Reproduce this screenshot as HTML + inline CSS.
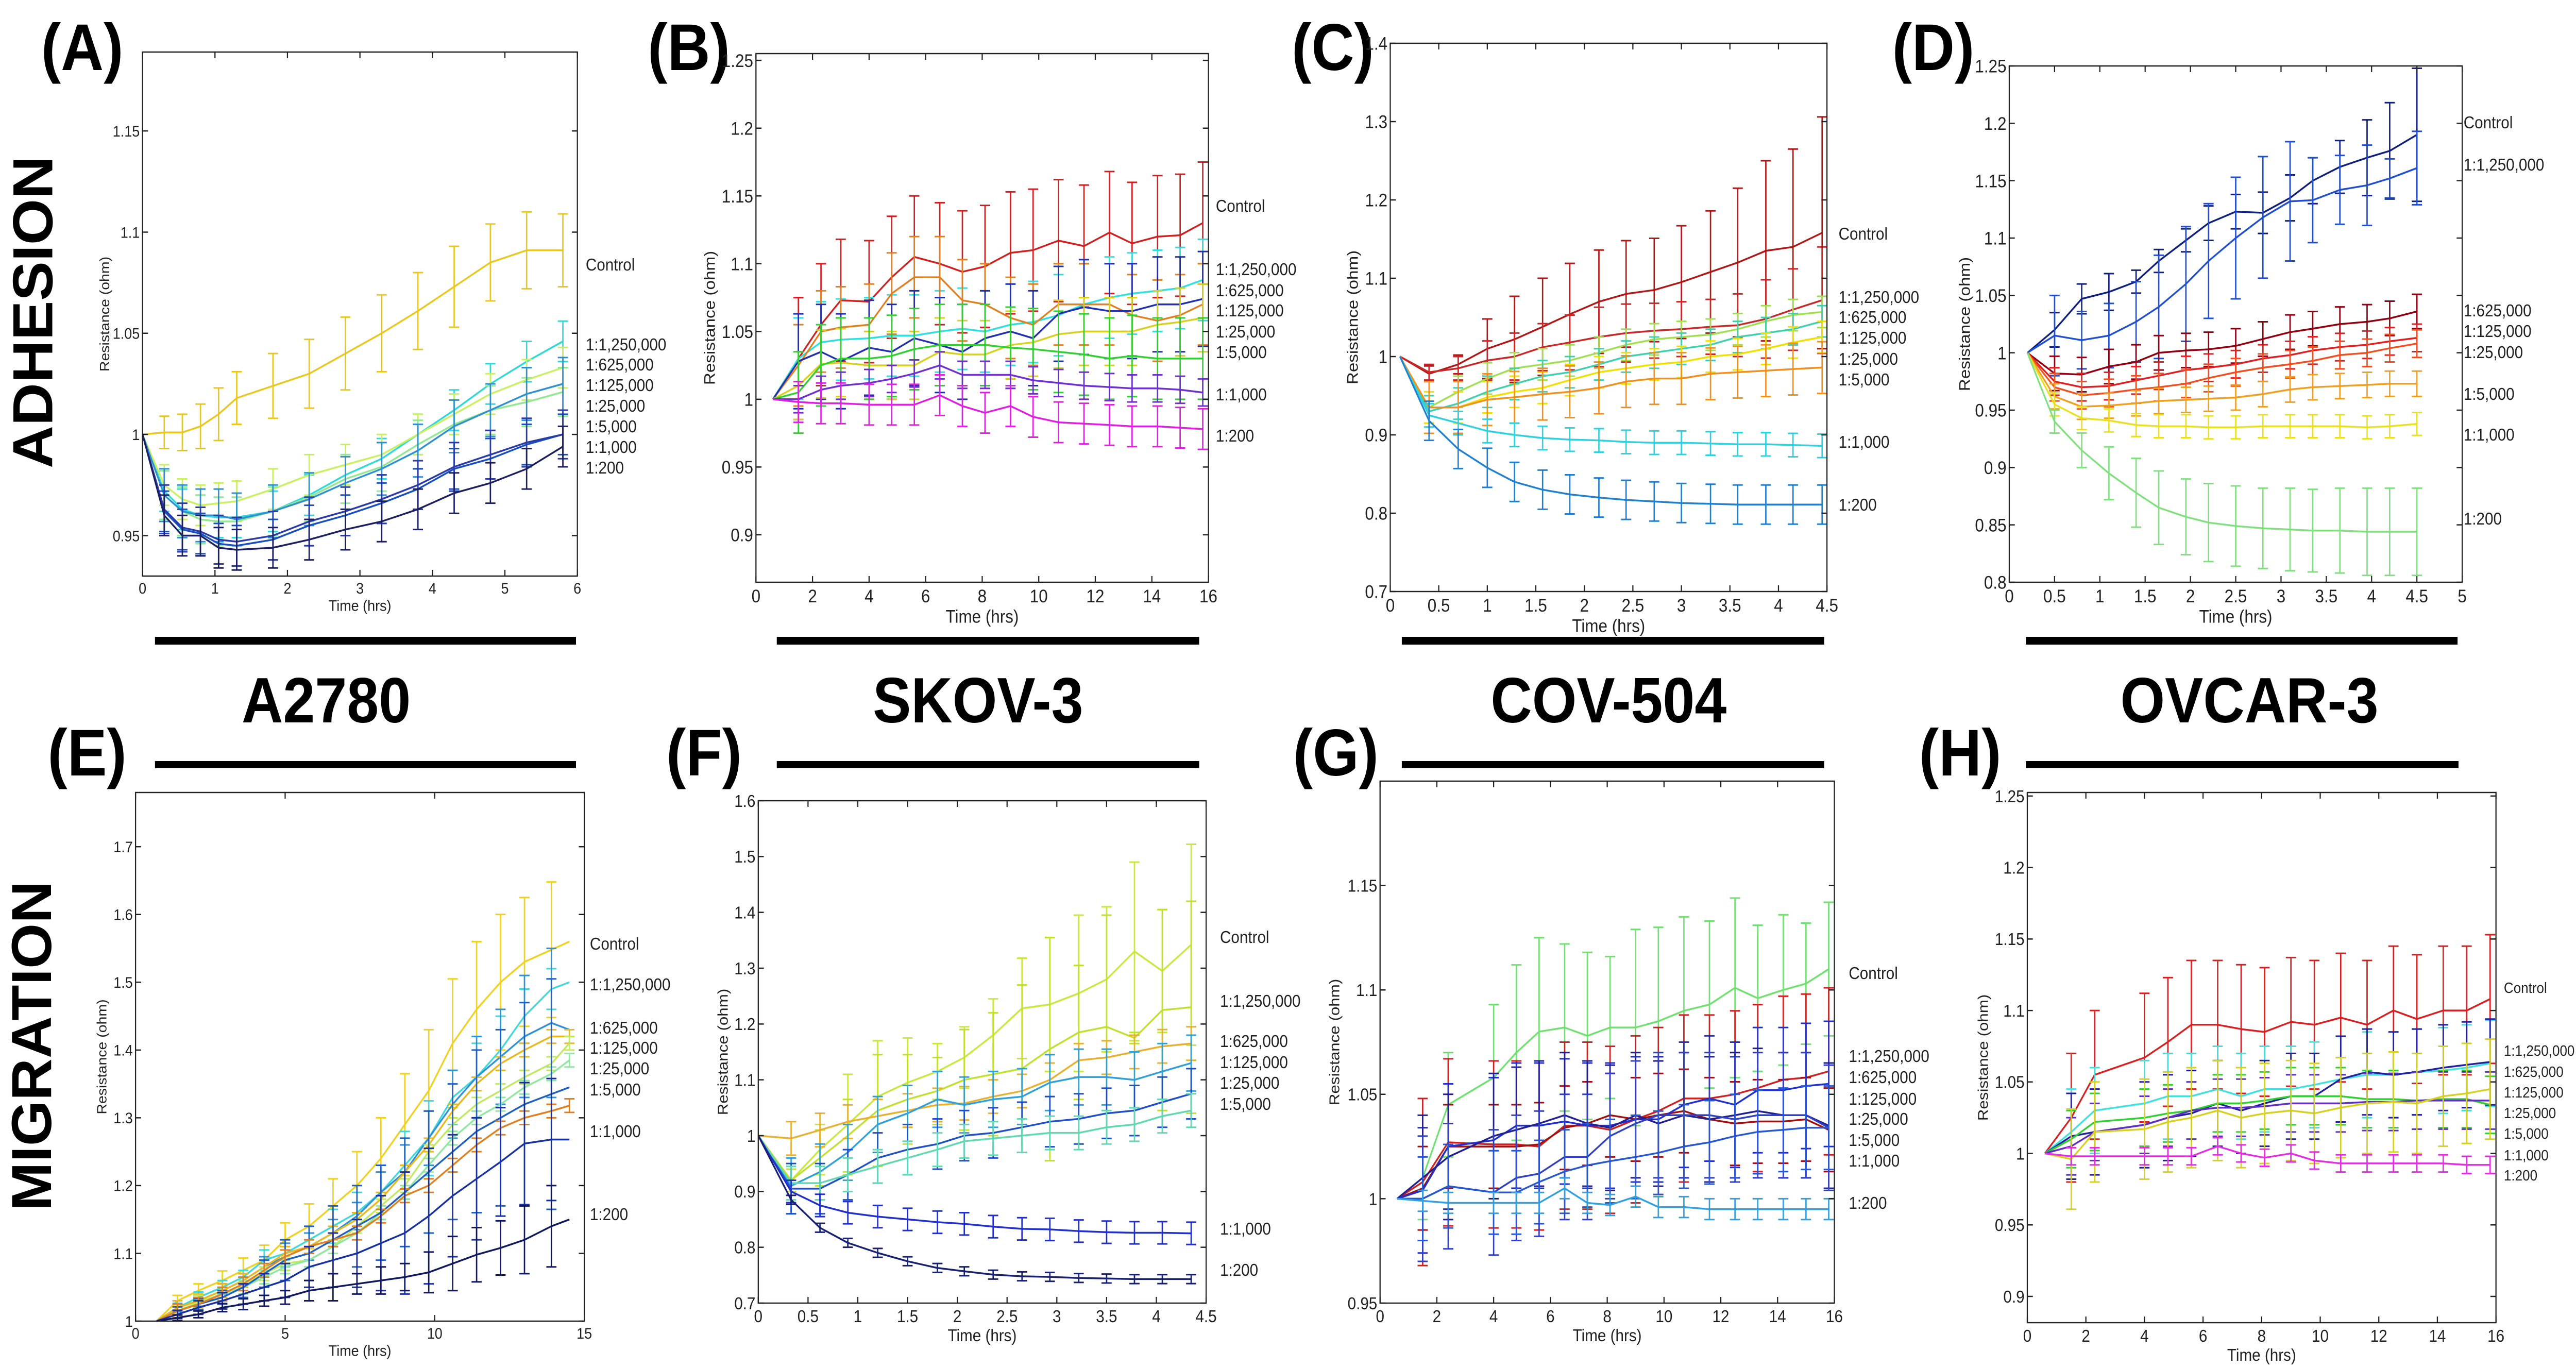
<!DOCTYPE html>
<html><head><meta charset="utf-8">
<style>
html,body{margin:0;padding:0;background:#fff;overflow:hidden;width:100%;height:100%;}
svg{display:block;width:100vw;height:100vh;}
text{font-family:"Liberation Sans",Arial,sans-serif;}
</style></head>
<body>
<svg id="fig" xmlns="http://www.w3.org/2000/svg" viewBox="0 0 5568 2653" preserveAspectRatio="none">
<rect x="0" y="0" width="5568" height="2653" fill="#fff"/>
<g>
<text transform="translate(113,606) rotate(-90)" text-anchor="middle" font-size="122" font-weight="bold" textLength="606" lengthAdjust="spacingAndGlyphs">ADHESION</text>
<text transform="translate(110,2030) rotate(-90)" text-anchor="middle" font-size="122" font-weight="bold" textLength="640" lengthAdjust="spacingAndGlyphs">MIGRATION</text>
</g>
<g font-size="128" font-weight="bold">
<text x="89" y="136">(A)</text>
<text x="1400" y="136">(B)</text>
<text x="2792" y="136">(C)</text>
<text x="4090" y="136">(D)</text>
<text x="103" y="1505">(E)</text>
<text x="1440" y="1505">(F)</text>
<text x="2795" y="1505">(G)</text>
<text x="4148" y="1505">(H)</text>
</g>
<g font-size="124" font-weight="bold" text-anchor="middle">
<text x="705" y="1402">A2780</text>
<text x="2114" y="1402">SKOV-3</text>
<text x="3477" y="1402">COV-504</text>
<text x="4862" y="1402">OVCAR-3</text>
</g>
<g fill="#000">
<rect x="335" y="1236" width="910" height="15"/>
<rect x="1679" y="1236" width="913" height="15"/>
<rect x="3030" y="1236" width="913" height="15"/>
<rect x="4379" y="1236" width="933" height="15"/>
<rect x="335" y="1477" width="910" height="14"/>
<rect x="1679" y="1477" width="913" height="14"/>
<rect x="3030" y="1477" width="913" height="14"/>
<rect x="4379" y="1477" width="935" height="14"/>
</g>
<g id="plots"></g>
</svg>
<script>
const LABELS = ["Control","1:1,250,000","1:625,000","1:125,000","1:25,000","1:5,000","1:1,000","1:200"];

// ---- Panel A ----
const A_time = [0,0.3,0.55,0.8,1.05,1.3,1.8,2.3,2.8,3.3,3.8,4.3,4.8,5.3,5.8];
const A_values = [
 [1,1.001,1.001,1.004,1.01,1.018,1.024,1.03,1.04,1.05,1.061,1.073,1.085,1.091,1.091],
 [1,0.972,0.963,0.96,0.959,0.959,0.962,0.97,0.98,0.988,1.0,1.012,1.025,1.036,1.046],
 [1,0.975,0.968,0.965,0.966,0.967,0.973,0.98,0.985,0.99,1.0,1.01,1.02,1.027,1.033],
 [1,0.97,0.962,0.958,0.957,0.957,0.962,0.969,0.978,0.984,0.995,1.005,1.012,1.016,1.021],
 [1,0.97,0.962,0.96,0.96,0.958,0.962,0.968,0.976,0.983,0.992,1.004,1.012,1.02,1.025],
 [1,0.962,0.953,0.951,0.946,0.945,0.948,0.955,0.96,0.966,0.973,0.983,0.988,0.995,1.0],
 [1,0.963,0.954,0.952,0.948,0.947,0.95,0.957,0.962,0.968,0.975,0.984,0.99,0.996,1.0],
 [1,0.96,0.95,0.95,0.944,0.943,0.944,0.948,0.953,0.957,0.963,0.971,0.976,0.983,0.994]];
const A_err = [[0,0.008,0.009,0.011,0.013,0.013,0.016,0.017,0.018,0.019,0.019,0.02,0.019,0.019,0.018],0.01,0.01,0.012,0.013,0.01,0.012,0.01];
const A_colors = ["#e8c820","#30d8d8","#c8f060","#90e890","#3090d0","#1850c0","#2a3aa8","#1c2060"];
const A_xticks = [0,1,2,3,4,5,6];
const A_yticks = [0.95,1,1.05,1.1,1.15];
const A_ytickText = ["0.95","1","1.05","1.1","1.15"];

// ---- Panel B ----
const B_time = [0.6,1.5,2.3,3,4,4.8,5.6,6.5,7.3,8.1,9,9.8,10.7,11.6,12.5,13.3,14.2,15,15.8];
const B_values = [
 [1,1.03,1.055,1.073,1.072,1.09,1.105,1.1,1.094,1.098,1.108,1.11,1.117,1.113,1.123,1.115,1.12,1.121,1.13],
 [1,1.03,1.042,1.044,1.045,1.047,1.047,1.05,1.052,1.05,1.055,1.057,1.062,1.07,1.075,1.078,1.08,1.082,1.088],
 [1,1.025,1.05,1.053,1.055,1.078,1.09,1.09,1.073,1.07,1.06,1.055,1.07,1.07,1.07,1.062,1.058,1.062,1.07],
 [1,1.028,1.035,1.028,1.038,1.035,1.045,1.04,1.035,1.045,1.05,1.045,1.063,1.068,1.065,1.065,1.07,1.07,1.074],
 [1,1.01,1.026,1.027,1.025,1.025,1.025,1.035,1.033,1.033,1.04,1.042,1.048,1.05,1.05,1.05,1.055,1.057,1.06],
 [1,1.005,1.025,1.03,1.03,1.032,1.037,1.04,1.04,1.04,1.038,1.037,1.035,1.033,1.03,1.032,1.03,1.03,1.03],
 [1,1.0,1.007,1.01,1.012,1.015,1.019,1.025,1.018,1.018,1.018,1.014,1.012,1.01,1.009,1.008,1.008,1.007,1.005],
 [1,0.998,0.997,0.997,0.996,0.996,0.996,1.003,0.995,0.99,0.995,0.987,0.983,0.982,0.981,0.98,0.98,0.979,0.978]];
const B_err = [0.045,0.03,0.03,0.035,0.025,0.03,0.01,0.015];
const B_colors = ["#d02020","#30e0e0","#e08020","#2030b0","#d8d020","#30d030","#7030d0","#e020e0"];
const B_xticks = [0,2,4,6,8,10,12,14,16];
const B_yticks = [0.9,0.95,1,1.05,1.1,1.15,1.2,1.25];
const B_ytickText = ["0.9","0.95","1","1.05","1.1","1.15","1.2","1.25"];

// ---- Panel C ----
const C_time = [0.1,0.4,0.7,1,1.28,1.57,1.85,2.15,2.43,2.72,3,3.3,3.58,3.87,4.15,4.45];
const C_values = [
 [1,0.978,0.99,1.01,1.022,1.038,1.054,1.07,1.08,1.085,1.095,1.108,1.12,1.135,1.14,1.158],
 [1,0.98,0.985,0.995,1.0,1.012,1.018,1.025,1.03,1.033,1.035,1.038,1.04,1.048,1.06,1.072],
 [1,0.935,0.955,0.972,0.985,0.99,0.995,1.005,1.015,1.022,1.025,1.028,1.035,1.045,1.053,1.057],
 [1,0.93,0.94,0.955,0.965,0.975,0.98,0.99,1.0,1.005,1.01,1.015,1.025,1.03,1.035,1.045],
 [1,0.935,0.935,0.948,0.955,0.96,0.97,0.98,0.985,0.99,0.993,1.0,1.003,1.01,1.018,1.025],
 [1,0.935,0.935,0.945,0.948,0.952,0.955,0.96,0.968,0.972,0.972,0.978,0.98,0.982,0.984,0.986],
 [1,0.925,0.915,0.905,0.9,0.896,0.894,0.893,0.891,0.89,0.89,0.889,0.888,0.888,0.887,0.886],
 [1,0.918,0.882,0.858,0.84,0.83,0.824,0.82,0.817,0.815,0.813,0.812,0.811,0.811,0.811,0.811]];
const C_err = [[0,0.01,0.012,0.038,0.055,0.062,0.065,0.066,0.068,0.066,0.072,0.078,0.095,0.115,0.125,0.148],
 [0,0.01,0.015,0.025,0.03,0.03,0.035,0.038,0.037,0.035,0.035,0.035,0.04,0.05,0.052,0.068],0.02,0.02,0.02,0.033,0.015,0.025];
const C_colors = ["#b01818","#c82828","#a0e050","#40d0b0","#f0e000","#f09020","#30d0e0","#2080d0"];
const C_xticks = [0,0.5,1,1.5,2,2.5,3,3.5,4,4.5];
const C_yticks = [0.7,0.8,0.9,1,1.1,1.2,1.3,1.4];
const C_ytickText = ["0.7","0.8","0.9","1","1.1","1.2","1.3","1.4"];

// ---- Panel D ----
const D_time = [0.2,0.5,0.8,1.1,1.4,1.65,1.95,2.2,2.5,2.8,3.1,3.35,3.65,3.95,4.2,4.5];
const D_values = [
 [1,1.02,1.047,1.053,1.062,1.08,1.098,1.113,1.123,1.122,1.135,1.15,1.162,1.17,1.176,1.19],
 [1,1.015,1.011,1.015,1.027,1.04,1.06,1.08,1.1,1.118,1.132,1.133,1.142,1.146,1.152,1.161],
 [1,0.982,0.981,0.988,0.992,1.0,1.002,1.003,1.006,1.012,1.018,1.021,1.025,1.027,1.03,1.036],
 [1,0.975,0.97,0.971,0.976,0.98,0.985,0.987,0.99,0.995,0.998,1.002,1.005,1.007,1.01,1.013],
 [1,0.97,0.963,0.965,0.968,0.97,0.973,0.978,0.983,0.987,0.99,0.993,0.998,1.0,1.004,1.008],
 [1,0.962,0.953,0.954,0.956,0.958,0.959,0.96,0.961,0.964,0.968,0.97,0.971,0.972,0.973,0.973],
 [1,0.955,0.943,0.941,0.937,0.936,0.936,0.935,0.935,0.936,0.936,0.936,0.936,0.935,0.936,0.938],
 [1,0.94,0.915,0.895,0.878,0.865,0.857,0.852,0.849,0.847,0.846,0.845,0.845,0.844,0.844,0.844]];
const D_err = [[0,0.015,0.013,0.016,0.01,0.01,0.01,0.015,0.015,0.018,0.02,0.02,0.023,0.033,0.042,0.058],
 [0,0.035,0.025,0.028,0.035,0.045,0.05,0.05,0.053,0.053,0.052,0.037,0.03,0.035,0.017,0.032],0.015,0.012,0.012,0.011,0.01,[0,0.01,0.015,0.023,0.03,0.032,0.033,0.034,0.035,0.035,0.036,0.036,0.037,0.038,0.038,0.038]];
const D_colors = ["#102080","#2050d0","#900010","#e02020","#f05020","#f0a020","#e8e020","#80e080"];
const D_xticks = [0,0.5,1,1.5,2,2.5,3,3.5,4,4.5,5];
const D_yticks = [0.8,0.85,0.9,0.95,1,1.05,1.1,1.15,1.2,1.25];
const D_ytickText = ["0.8","0.85","0.9","0.95","1","1.05","1.1","1.15","1.2","1.25"];

// ---- Panel E ----
const E_time = [0.7,1.4,2.1,2.9,3.6,4.3,5,5.8,6.6,7.4,8.2,9,9.8,10.6,11.4,12.2,13,13.9,14.5];
const E_values = [
 [1,1.03,1.045,1.06,1.075,1.09,1.12,1.14,1.17,1.2,1.24,1.29,1.34,1.41,1.46,1.5,1.53,1.548,1.56],
 [1,1.02,1.035,1.05,1.065,1.09,1.1,1.12,1.14,1.16,1.19,1.23,1.27,1.33,1.36,1.4,1.45,1.49,1.5],
 [1,1.02,1.03,1.045,1.06,1.08,1.095,1.11,1.13,1.155,1.19,1.22,1.27,1.32,1.36,1.39,1.42,1.44,1.43],
 [1,1.02,1.03,1.045,1.06,1.08,1.1,1.11,1.13,1.15,1.18,1.22,1.26,1.31,1.35,1.38,1.4,1.42,1.42],
 [1,1.015,1.028,1.04,1.055,1.07,1.085,1.09,1.11,1.14,1.17,1.2,1.25,1.29,1.32,1.34,1.36,1.38,1.41],
 [1,1.015,1.025,1.04,1.05,1.065,1.08,1.09,1.11,1.13,1.16,1.19,1.23,1.27,1.3,1.32,1.345,1.365,1.385],
 [1,1.015,1.025,1.035,1.05,1.07,1.09,1.1,1.12,1.14,1.16,1.19,1.22,1.25,1.28,1.3,1.32,1.335,1.345],
 [1,1.015,1.025,1.04,1.055,1.075,1.095,1.11,1.12,1.13,1.155,1.185,1.2,1.23,1.26,1.285,1.3,1.31,1.318],
 [1,1.01,1.02,1.03,1.04,1.05,1.06,1.08,1.09,1.1,1.115,1.13,1.155,1.185,1.21,1.235,1.262,1.268,1.268],
 [1,1.005,1.01,1.02,1.025,1.03,1.035,1.045,1.05,1.055,1.06,1.065,1.072,1.085,1.098,1.108,1.12,1.14,1.15]];
const E_err = [[0,0.008,0.01,0.014,0.018,0.022,0.025,0.033,0.04,0.05,0.06,0.075,0.09,0.095,0.1,0.1,0.095,0.1,0],
 [0,0.006,0.008,0.01,0.01,0.015,0.02,0.02,0.025,0.03,0.04,0.05,0.055,0.04,0.05,0.05,0.04,0.03,0],
 [0,0.006,0.008,0.01,0.01,0.015,0.02,0.02,0.02,0.02,0.03,0.04,0.04,0.05,0.06,0.07,0.09,0.11,0],0.01,0.01,0.01,
 [0,0.006,0.008,0.01,0.015,0.02,0.03,0.04,0.05,0.06,0.07,0.08,0.09,0.1,0.12,0.13,0.15,0.17,0],0.01,
 [0,0.006,0.01,0.012,0.015,0.02,0.025,0.03,0.04,0.05,0.07,0.09,0.1,0.09,0.09,0.08,0.09,0.09,0],
 [0,0.004,0.005,0.006,0.008,0.008,0.01,0.015,0.02,0.015,0.02,0.02,0.03,0.04,0.04,0.04,0.05,0.06,0]];
const E_colors = ["#f0d020","#40d8d8","#3090d8","#e8b820","#c0e860","#90e8a0","#2060c0","#e08020","#1830a0","#101860"];
const E_xticks = [0,5,10,15];
const E_yticks = [1,1.1,1.2,1.3,1.4,1.5,1.6,1.7];
const E_ytickText = ["1","1.1","1.2","1.3","1.4","1.5","1.6","1.7"];

// ---- Panel F ----
const F_time = [0,0.33,0.62,0.9,1.2,1.5,1.8,2.07,2.36,2.65,2.93,3.22,3.5,3.78,4.06,4.35];
const F_values = [
 [1,0.92,0.975,1.02,1.07,1.095,1.115,1.14,1.18,1.228,1.235,1.255,1.28,1.33,1.295,1.342],
 [1,0.92,0.96,1.0,1.045,1.065,1.08,1.1,1.11,1.12,1.155,1.185,1.195,1.175,1.225,1.23],
 [1,0.995,1.01,1.025,1.035,1.045,1.055,1.058,1.07,1.08,1.1,1.135,1.14,1.15,1.16,1.165],
 [1,0.91,0.935,0.97,1.02,1.04,1.065,1.055,1.065,1.07,1.095,1.105,1.105,1.1,1.115,1.13],
 [1,0.905,0.905,0.93,0.96,0.975,0.985,1.0,1.005,1.015,1.025,1.03,1.04,1.045,1.06,1.075],
 [1,0.915,0.915,0.93,0.945,0.96,0.975,0.99,0.995,1.0,1.005,1.005,1.015,1.02,1.035,1.045],
 [1,0.9,0.875,0.862,0.855,0.85,0.845,0.842,0.837,0.833,0.832,0.829,0.827,0.826,0.826,0.825],
 [1,0.885,0.835,0.808,0.79,0.775,0.763,0.757,0.751,0.748,0.747,0.745,0.744,0.743,0.743,0.743]];
const F_err = [[0,0.02,0.045,0.09,0.1,0.08,0.05,0.055,0.065,0.09,0.12,0.14,0.13,0.16,0.11,0.18],
 [0,0.02,0.05,0.065,0.1,0.08,0.06,0.09,0.11,0.15,0.2,0.12,0.2,0.01,0.18,0.19],0.03,0.05,0.045,0.03,0.02,0.008];
const F_colors = ["#c8e840","#c0e030","#e8b030","#30a0d8","#2050c8","#60d8b0","#2030c8","#182070"];
const F_xticks = [0,0.5,1,1.5,2,2.5,3,3.5,4,4.5];
const F_yticks = [0.7,0.8,0.9,1,1.1,1.2,1.3,1.4,1.5,1.6];
const F_ytickText = ["0.7","0.8","0.9","1","1.1","1.2","1.3","1.4","1.5","1.6"];

// ---- Panel G ----
const G_time = [0.6,1.5,2.4,4,4.8,5.6,6.5,7.3,8.1,9,9.8,10.7,11.6,12.5,13.3,14.2,15,15.8];
const G_values = [
 [1,1.01,1.045,1.058,1.07,1.08,1.082,1.078,1.082,1.082,1.085,1.09,1.093,1.101,1.096,1.1,1.103,1.11],
 [1,1.008,1.027,1.026,1.026,1.025,1.035,1.035,1.033,1.038,1.042,1.048,1.048,1.05,1.053,1.057,1.058,1.061],
 [1,1.005,1.025,1.025,1.025,1.026,1.034,1.036,1.04,1.038,1.04,1.042,1.038,1.036,1.037,1.037,1.038,1.033],
 [1,1.004,1.025,1.028,1.035,1.035,1.037,1.035,1.035,1.038,1.038,1.045,1.048,1.045,1.052,1.052,1.054,1.055],
 [1,1.01,1.02,1.03,1.033,1.036,1.04,1.036,1.034,1.04,1.036,1.04,1.038,1.04,1.042,1.04,1.04,1.035],
 [1,1.0,1.006,1.003,1.01,1.012,1.02,1.02,1.03,1.036,1.04,1.04,1.04,1.038,1.04,1.04,1.04,1.034],
 [1,1.0,1.006,1.003,1.003,1.008,1.013,1.016,1.018,1.02,1.022,1.025,1.027,1.03,1.032,1.033,1.034,1.034],
 [1,0.999,0.998,0.998,0.998,0.998,1.005,0.998,0.997,1.001,0.996,0.996,0.995,0.995,0.995,0.995,0.995,0.995]];
const G_err = [[0,0.02,0.025,0.035,0.042,0.045,0.04,0.04,0.034,0.047,0.045,0.045,0.04,0.043,0.035,0.036,0.029,0.032],0.04,0.02,0.03,0.03,0.03,0.02,0.005];
const G_colors = ["#70e070","#d02020","#a01010","#2030d0","#202090","#3040c0","#2858d0","#30a0e0"];
const G_xticks = [0,2,4,6,8,10,12,14,16];
const G_yticks = [0.95,1,1.05,1.1,1.15];
const G_ytickText = ["0.95","1","1.05","1.1","1.15"];

// ---- Panel H ----
const H_time = [0.6,1.5,2.3,4,4.8,5.6,6.5,7.3,8.1,9,9.8,10.7,11.6,12.5,13.3,14.2,15,15.8];
const H_values = [
 [1,1.025,1.055,1.067,1.078,1.09,1.09,1.087,1.085,1.092,1.09,1.095,1.09,1.1,1.094,1.1,1.1,1.108],
 [1,1.015,1.03,1.035,1.04,1.04,1.045,1.04,1.045,1.045,1.048,1.052,1.055,1.055,1.057,1.058,1.06,1.063],
 [1,1.012,1.015,1.02,1.025,1.028,1.035,1.03,1.035,1.04,1.04,1.052,1.057,1.055,1.057,1.06,1.062,1.064],
 [1,1.01,1.022,1.025,1.028,1.03,1.035,1.035,1.037,1.04,1.04,1.04,1.038,1.038,1.037,1.038,1.038,1.034],
 [1,1.005,1.015,1.02,1.025,1.03,1.032,1.032,1.033,1.035,1.035,1.035,1.036,1.036,1.037,1.037,1.037,1.037],
 [1,0.996,1.015,1.017,1.022,1.025,1.03,1.025,1.028,1.03,1.028,1.032,1.035,1.036,1.035,1.04,1.042,1.045],
 [1,0.998,0.998,0.998,0.998,0.998,1.005,1.0,0.997,1.0,0.995,0.993,0.993,0.993,0.993,0.993,0.992,0.992]];
const H_err = [0.045,0.03,0.03,0.02,0.02,0.035,0.006];
const H_colors = ["#d82020","#40e0e0","#2020a0","#30d030","#6030c0","#d8d020","#e030e0"];
const H_xticks = [0,2,4,6,8,10,12,14,16];
const H_yticks = [0.9,0.95,1,1.05,1.1,1.15,1.2,1.25];
const H_ytickText = ["0.9","0.95","1","1.05","1.1","1.15","1.2","1.25"];

const NS = "http://www.w3.org/2000/svg";
const root = document.getElementById("plots");
function el(tag, attrs, parent){
  const e = document.createElementNS(NS, tag);
  for (const k in attrs) e.setAttribute(k, attrs[k]);
  parent.appendChild(e);
  return e;
}

const panels = [
 {id:"a", L:308,R:1248,T:101,B:1118, xmin:0,xmax:6, ymin:0.93,ymax:1.189, time:A_time, values:A_values, err:A_err, colors:A_colors, xt:A_xticks, yt:A_yticks, ytt:A_ytickText, fs:30, lf:33, lx:1266, ly:[513,668,707,747,787,827,867,907], ylab:236},
 {id:"b", L:1634,R:2612,T:104,B:1130, xmin:0,xmax:16, ymin:0.865,ymax:1.255, time:B_time, values:B_values, err:B_err, colors:B_colors, xt:B_xticks, yt:B_yticks, ytt:B_ytickText, fs:35, lf:33, lx:2628, ly:[399,522,563,602,643,683,765,845], ylab:1545},
 {id:"c", L:3005,R:3949,T:84,B:1148, xmin:0,xmax:4.5, ymin:0.7,ymax:1.4, time:C_time, values:C_values, err:C_err, colors:C_colors, xt:C_xticks, yt:C_yticks, ytt:C_ytickText, fs:35, lf:33, lx:3974, ly:[453,576,615,655,696,736,857,979], ylab:2935},
 {id:"d", L:4343,R:5322,T:128,B:1130, xmin:0,xmax:5, ymin:0.8,ymax:1.25, time:D_time, values:D_values, err:D_err, colors:D_colors, xt:D_xticks, yt:D_yticks, ytt:D_ytickText, fs:35, lf:33, lx:5325, ly:[237,319,602,642,683,764,843,1006], ylab:4258},
 {id:"e", L:293,R:1263,T:1538,B:2564, xmin:0,xmax:15, ymin:1.0,ymax:1.78, time:E_time, values:E_values, err:E_err, colors:E_colors, xt:E_xticks, yt:E_yticks, ytt:E_ytickText, fs:30, lf:33, lx:1275, ly:[1831,1910,1994,2033,2073,2114,2195,2356], ylab:230},
 {id:"f", L:1639,R:2607,T:1554,B:2529, xmin:0,xmax:4.5, ymin:0.7,ymax:1.6, time:F_time, values:F_values, err:F_err, colors:F_colors, xt:F_xticks, yt:F_yticks, ytt:F_ytickText, fs:33, lf:33, lx:2637, ly:[1818,1942,2020,2061,2101,2142,2384,2464], ylab:1573},
 {id:"g", L:2983,R:3965,T:1516,B:2529, xmin:0,xmax:16, ymin:0.95,ymax:1.2, time:G_time, values:G_values, err:G_err, colors:G_colors, xt:G_xticks, yt:G_yticks, ytt:G_ytickText, fs:33, lf:33, lx:3996, ly:[1888,2049,2090,2132,2171,2212,2252,2334], ylab:2895},
 {id:"h", L:4382,R:5395,T:1538,B:2567, xmin:0,xmax:16, ymin:0.8816,ymax:1.2525, time:H_time, values:H_values, err:H_err, colors:H_colors, xt:H_xticks, yt:H_yticks, ytt:H_ytickText, fs:33, lf:29, lx:5412, ly:[1915,2037,2078,2118,2158,2198,2240,2279], ylab:4297}
];

panels.forEach(p => {
  const g = el("g", {}, root);
  
  
  const sx = v => p.L + (v - p.xmin) / (p.xmax - p.xmin) * (p.R - p.L);
  const sy = v => p.B - (v - p.ymin) / (p.ymax - p.ymin) * (p.B - p.T);

  p.values.forEach((vals, si) => {
    const col = p.colors[si];
    const sg = el("g", {stroke: col, fill: "none"}, g);
    
    
    const errs = p.err[si];
    vals.forEach((v, i) => {
      const e = Array.isArray(errs) ? errs[i] : (i === 0 ? 0 : errs);
      if (!e) return;
      const x = sx(p.time[i]);
      const y1 = sy(v + e), y2 = sy(v - e);
      const path = el("path", {d: `M${x},${y1}V${y2}M${x-11},${y1}H${x+11}M${x-11},${y2}H${x+11}`, "stroke-width": 3}, sg);
      
      
    });
    const pts = vals.map((v, i) => `${sx(p.time[i]).toFixed(1)},${sy(v).toFixed(1)}`).join(" ");
    const line = el("polyline", {points: pts, "stroke-width": 3.5, "stroke-linejoin": "round"}, sg);
    
    
  });

  const fr = el("rect", {x:p.L, y:p.T, width:p.R-p.L, height:p.B-p.T, fill:"none", stroke:"#222", "stroke-width":2.5}, g);
  
  

  p.xt.forEach(v => {
    const x = sx(v);
    el("path", {d:`M${x},${p.B}v-12M${x},${p.T}v12`, stroke:"#222", "stroke-width":2.5}, g);
    const t = el("text", {x:x, y:p.B + p.fs + 4, "font-size":p.fs, "text-anchor":"middle", fill:"#222"}, g);
    
    
    t.textContent = String(v);
  });
  p.yt.forEach((v, i) => {
    const y = sy(v);
    el("path", {d:`M${p.L},${y}h12M${p.R},${y}h-12`, stroke:"#222", "stroke-width":2.5}, g);
    const t = el("text", {x:p.L - 6, y:y + p.fs*0.36, "font-size":p.fs, "text-anchor":"end", fill:"#222"}, g);
    
    
    t.textContent = p.ytt[i];
  });
  const xt = el("text", {x:(p.L+p.R)/2, y:p.B + p.fs*2.25, "font-size":p.fs, "text-anchor":"middle", fill:"#222"}, g);
  
  
  xt.textContent = "Time (hrs)";
  const yc = (p.T + p.B) / 2;
  const yt = el("text", {transform:`translate(${p.ylab},${yc}) rotate(-90)`, "font-size":p.fs*0.95, "text-anchor":"middle", fill:"#222"}, g);
  
  
  yt.textContent = "Resistance (ohm)";

  LABELS.forEach((lab, i) => {
    const t = el("text", {x:p.lx, y:p.ly[i] + 12, "font-size":p.lf, fill:"#222"}, g);
    
    
    t.textContent = lab;
  });
});
</script>
</body></html>
